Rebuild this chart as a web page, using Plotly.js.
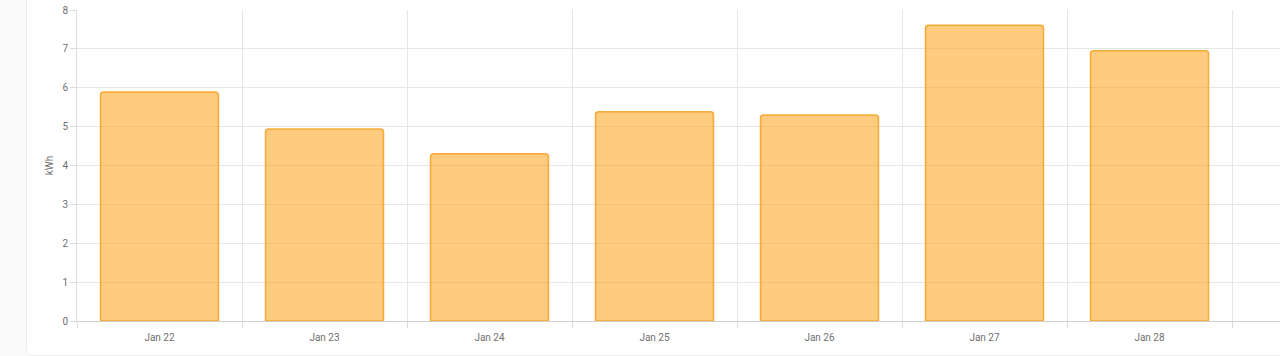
<!DOCTYPE html>
<html>
<head>
<meta charset="utf-8">
<script src="https://cdn.plot.ly/plotly-3.0.1.min.js"></script>
<style>
  html, body { margin:0; padding:0; width:1280px; height:356px; overflow:hidden; background:#fafafa; }
  #card { position:absolute; left:26px; top:-10px; width:1270px; height:366px; background:#fff; border:1px solid #ececec; border-radius:6px; box-sizing:border-box; }
  #chart { position:absolute; left:0; top:0; width:1280px; height:356px; }
</style>
</head>
<body>
<div id="card"></div>
<div id="chart"></div>
<script>
const categories = ["Jan 22", "Jan 23", "Jan 24", "Jan 25", "Jan 26", "Jan 27", "Jan 28"];
const energyKWh = [5.89, 4.94, 4.30, 5.38, 5.30, 7.61, 6.95];
const yTicks = [0, 1, 2, 3, 4, 5, 6, 7, 8];
const yTitle = "kWh";

const idx = categories.map((c, i) => i);
const boundaries = categories.map((c, i) => i - 0.5).concat([categories.length - 0.5]);

const trace = {
  type: "bar",
  x: idx,
  y: energyKWh,
  width: 0.715,
  marker: {
    color: "rgba(255,152,0,0.5)",
    line: { color: "rgba(245,160,30,0.85)", width: 1.5 },
    cornerradius: 3
  },
  hoverinfo: "none",
  xaxis: "x",
  yaxis: "y"
};

const labelTrace = {
  type: "scatter", mode: "markers",
  x: idx, y: idx.map(() => 0),
  marker: { opacity: 0 },
  hoverinfo: "none", showlegend: false,
  xaxis: "x2", yaxis: "y"
};

const xRange = [-0.5, categories.length - 0.5 + 48 / 165];

const layout = {
  width: 1280, height: 356,
  margin: { l: 77, r: 0, t: 10, b: 35 },
  paper_bgcolor: "rgba(0,0,0,0)",
  plot_bgcolor: "rgba(0,0,0,0)",
  showlegend: false,
  font: { family: "Roboto, sans-serif", size: 10, color: "#6f6f6f" },
  xaxis: {
    range: xRange,
    tickvals: boundaries,
    ticktext: boundaries.map(() => ""),
    showgrid: true, gridcolor: "#e6e6e6", gridwidth: 1,
    ticks: "outside", ticklen: 6, tickcolor: "#dcdcdc",
    showline: true, linecolor: "#cfcfcf", linewidth: 1,
    zeroline: false, fixedrange: true
  },
  xaxis2: {
    overlaying: "x", range: xRange,
    tickvals: idx, ticktext: categories,
    showgrid: false, ticks: "", zeroline: false, showline: false,
    tickfont: { family: "Roboto, sans-serif", size: 10, color: "#6f6f6f" },
    side: "bottom", ticklabelstandoff: 9
  },
  yaxis: {
    range: [0, 8],
    tickvals: yTicks,
    showgrid: true, gridcolor: "#e6e6e6", gridwidth: 1,
    ticks: "outside", ticklen: 6, tickcolor: "#dcdcdc",
    showline: true, linecolor: "#dcdcdc", linewidth: 1,
    zeroline: false,
    title: { text: yTitle, font: { size: 10, color: "#6f6f6f" }, standoff: 6 },
    tickfont: { size: 10, color: "#6f6f6f" }
  },
  bargap: 0.285
};

Plotly.newPlot("chart", [trace, labelTrace], layout, { displayModeBar: false, staticPlot: true });
</script>
</body>
</html>
